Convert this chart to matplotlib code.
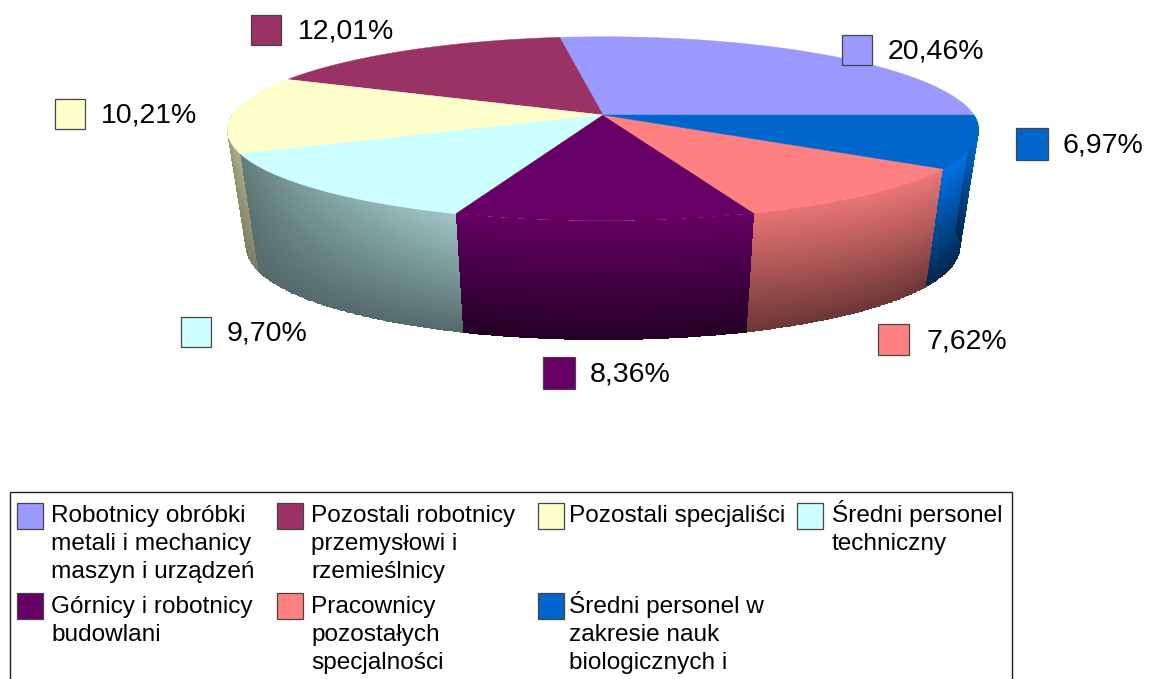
import numpy as np
import matplotlib
matplotlib.use("Agg")
import matplotlib.pyplot as plt
from matplotlib.patches import Rectangle

plt.rcParams['font.family'] = ['Liberation Sans', 'DejaVu Sans']

categories = [
    "Robotnicy obróbki\nmetali i mechanicy\nmaszyn i urządzeń",
    "Pozostali robotnicy\nprzemysłowi i\nrzemieślnicy",
    "Pozostali specjaliści",
    "Średni personel\ntechniczny",
    "Górnicy i robotnicy\nbudowlani",
    "Pracownicy\npozostałych\nspecjalności",
    "Średni personel w\nzakresie nauk\nbiologicznych i",
]
values = [20.46, 12.01, 10.21, 9.70, 8.36, 7.62, 6.97]
value_labels = ["20,46%", "12,01%", "10,21%", "9,70%", "8,36%", "7,62%", "6,97%"]
colors = ["#9999FF", "#993366", "#FFFFCC", "#CCFFFF", "#660066", "#FF8080", "#0066CC"]

label_swatch = [(842, 35, 30), (251, 15, 30), (55, 99, 30), (181, 317, 30),
                (543, 357, 32), (878, 324, 31), (1016, 128, 32)]
label_text_x = [888, 298, 101, 227, 590, 926, 1063]
legend_x = [17, 277, 538, 797, 17, 277, 538]
legend_tx = [51, 311, 569, 832, 51, 311, 569]
legend_y = [503, 503, 503, 503, 593, 593, 593]
legend_base = [522, 522, 522, 522, 613, 613, 613]

wall_shade = [None, None, (0.50, 0.68, 0.48, 0.50), (0.48, 0.78, 0.42, 0.42),
              (0.97, 0.97, 0.36, 0.36), (0.90, 0.93, 0.43, 0.43), (1.12, 1.12, 0.38, 0.38)]

CX, CY, RX, RY, PERSP_X, PERSP_Y = 603, 115, 371, 90, 0.16, 0.15
SX, SY, Y0 = 0.95, 1.02, 232
START = 0


def top_xy(theta):
    t = np.radians(theta)
    u, v = np.cos(t), np.sin(t)
    return CX + RX * u / (1 + PERSP_X * v), CY - RY * v / (1 + PERSP_Y * v)


def bottom_xy(theta):
    x, y = top_xy(theta)
    return CX + (x - CX) * SX, Y0 + (y - CY) * SY


fig = plt.figure(figsize=(11.49, 6.79), dpi=100, facecolor="white")
ax = fig.add_axes([0, 0, 1, 1])
ax.set_xlim(0, 1149)
ax.set_ylim(679, 0)
ax.axis("off")

shares = np.array(values) / np.sum(values) * 360
ends = START + np.cumsum(shares)
starts = ends - shares

# side walls of the slices facing the viewer
for i, (lo, hi) in enumerate(zip(starts, ends)):
    if wall_shade[i] is None:
        continue
    lo = max(lo, 180)
    th = np.linspace(lo, hi, 90)
    tt = np.linspace(0, 1, 60)
    xt, yt = top_xy(th)
    xb, yb = bottom_xy(th)
    X = np.outer(xt, 1 - tt) + np.outer(xb, tt)
    Y = np.outer(yt, 1 - tt) + np.outer(yb, tt)
    tl, tr, bl, br = wall_shade[i]
    fa = np.linspace(0, 1, 89)[:, None]
    fb = np.linspace(0, 1, 59)[None, :]
    top = tl + (tr - tl) * fa
    bot = bl + (br - bl) * fa
    F = top * (1 - fb) + bot * fb
    rgb = np.array(matplotlib.colors.to_rgb(colors[i]))
    C = np.clip(F[..., None] * rgb, 0, 1)
    ax.pcolormesh(X, Y, C, shading="flat", antialiased=False, linewidth=0, zorder=2)

# top faces
for i in range(len(values)):
    th = np.linspace(starts[i], ends[i], 120)
    x, y = top_xy(th)
    ax.fill(np.r_[CX, x], np.r_[CY, y], color=colors[i], lw=0.3, zorder=3)

# data labels
for (l, t, s), tx, c, lab in zip(label_swatch, label_text_x, colors, value_labels):
    ax.add_patch(Rectangle((l, t), s, s, fc=c, ec="#444444", lw=0.9, zorder=4))
    ax.text(tx, t + s / 2 + 1.5, lab, fontsize=20.5, va="center", ha="left", color="black", zorder=5)

# legend box, running off the bottom of the picture
ax.add_patch(Rectangle((9.5, 491.5), 1002.5, 200, fc="white", ec="#222222", lw=1.0, zorder=1))
for name, c, lx, ty, ly, base in zip(categories, colors, legend_x, legend_tx, legend_y, legend_base):
    ax.add_patch(Rectangle((lx, ly), 25.5, 25.5, fc=c, ec="#444444", lw=0.9, zorder=4))
    for j, line in enumerate(name.split("\n")):
        ax.text(ty, base + j * 27.8, line, fontsize=17.6, va="baseline", ha="left",
                color="black", zorder=5)

fig.savefig("out.png", dpi=100)
